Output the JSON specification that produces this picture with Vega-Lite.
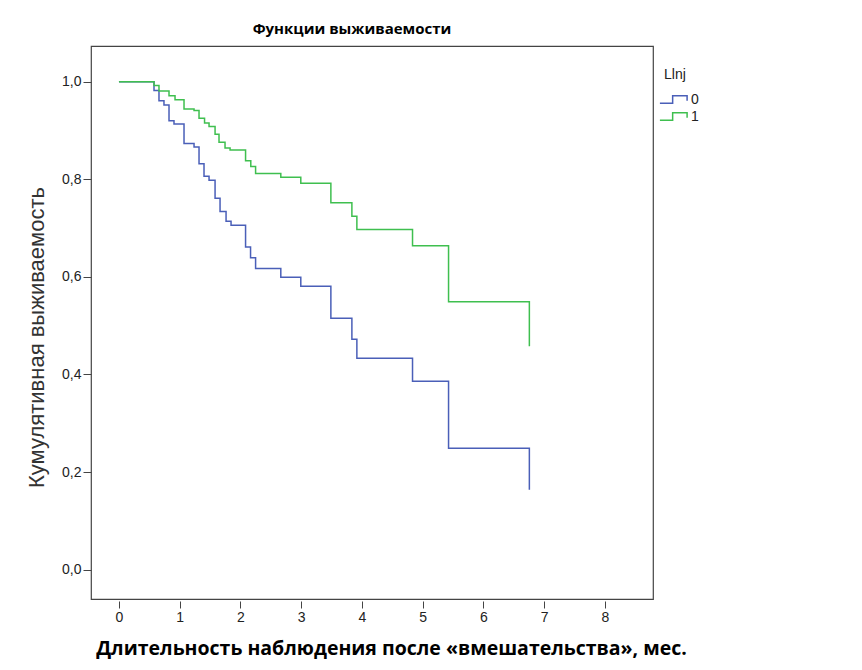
{
  "$schema": "https://vega.github.io/schema/vega-lite/v6.json",
  "width": 562,
  "height": 553,
  "autosize": "none",
  "padding": {"left": 91, "top": 46, "right": 209, "bottom": 71},
  "background": "white",
  "title": {
    "text": "Функции выживаемости",
    "font": "Open Sans",
    "fontSize": 15,
    "fontWeight": "bold",
    "color": "#000",
    "anchor": "middle",
    "dx": -20,
    "offset": 9
  },
  "data": {
    "values": [
      {"g": "0", "t": 0, "s": 1.0},
      {"g": "0", "t": 0.577, "s": 0.982},
      {"g": "0", "t": 0.659, "s": 0.961},
      {"g": "0", "t": 0.741, "s": 0.952},
      {"g": "0", "t": 0.824, "s": 0.92},
      {"g": "0", "t": 0.906, "s": 0.913},
      {"g": "0", "t": 1.071, "s": 0.873},
      {"g": "0", "t": 1.236, "s": 0.866},
      {"g": "0", "t": 1.318, "s": 0.832},
      {"g": "0", "t": 1.4, "s": 0.806},
      {"g": "0", "t": 1.483, "s": 0.798},
      {"g": "0", "t": 1.582, "s": 0.761},
      {"g": "0", "t": 1.664, "s": 0.734},
      {"g": "0", "t": 1.763, "s": 0.714},
      {"g": "0", "t": 1.845, "s": 0.706},
      {"g": "0", "t": 2.084, "s": 0.661},
      {"g": "0", "t": 2.166, "s": 0.639},
      {"g": "0", "t": 2.249, "s": 0.617},
      {"g": "0", "t": 2.664, "s": 0.599},
      {"g": "0", "t": 2.993, "s": 0.581},
      {"g": "0", "t": 3.488, "s": 0.515},
      {"g": "0", "t": 3.834, "s": 0.472},
      {"g": "0", "t": 3.916, "s": 0.433},
      {"g": "0", "t": 4.832, "s": 0.386},
      {"g": "0", "t": 5.425, "s": 0.249},
      {"g": "0", "t": 6.755, "s": 0.164},
      {"g": "1", "t": 0, "s": 1.0},
      {"g": "1", "t": 0.577, "s": 0.992},
      {"g": "1", "t": 0.659, "s": 0.981},
      {"g": "1", "t": 0.824, "s": 0.971},
      {"g": "1", "t": 0.923, "s": 0.963},
      {"g": "1", "t": 1.071, "s": 0.944},
      {"g": "1", "t": 1.236, "s": 0.941},
      {"g": "1", "t": 1.318, "s": 0.925},
      {"g": "1", "t": 1.409, "s": 0.915},
      {"g": "1", "t": 1.483, "s": 0.908},
      {"g": "1", "t": 1.582, "s": 0.892},
      {"g": "1", "t": 1.647, "s": 0.876},
      {"g": "1", "t": 1.746, "s": 0.864},
      {"g": "1", "t": 1.829, "s": 0.86},
      {"g": "1", "t": 2.084, "s": 0.838},
      {"g": "1", "t": 2.17, "s": 0.826},
      {"g": "1", "t": 2.249, "s": 0.812},
      {"g": "1", "t": 2.664, "s": 0.804},
      {"g": "1", "t": 2.993, "s": 0.792},
      {"g": "1", "t": 3.488, "s": 0.752},
      {"g": "1", "t": 3.834, "s": 0.724},
      {"g": "1", "t": 3.916, "s": 0.697},
      {"g": "1", "t": 4.832, "s": 0.664},
      {"g": "1", "t": 5.425, "s": 0.549},
      {"g": "1", "t": 6.755, "s": 0.458}
    ]
  },
  "mark": {"type": "line", "interpolate": "step-after", "strokeWidth": 1.5},
  "encoding": {
    "x": {
      "field": "t",
      "type": "quantitative",
      "scale": {"domain": [-0.46, 8.79], "nice": false, "zero": false},
      "axis": {
        "title": "Длительность наблюдения после «вмешательства», мес.",
        "values": [0, 1, 2, 3, 4, 5, 6, 7, 8],
        "format": "d",
        "grid": false,
        "domain": false,
        "offset": 2,
        "tickSize": 7,
        "tickColor": "#444",
        "labelFont": "Liberation Sans Narrow, Liberation Sans",
        "labelFontSize": 14,
        "labelColor": "#222",
        "labelPadding": 2,
        "titleFont": "Open Sans",
        "titleFontSize": 19.5,
        "titleFontWeight": "bold",
        "titleColor": "#000",
        "titleX": 300,
        "titleY": 47,
        "titleBaseline": "middle"
      }
    },
    "y": {
      "field": "s",
      "type": "quantitative",
      "scale": {"domain": [-0.06, 1.073], "nice": false, "zero": false},
      "axis": {
        "title": "Кумулятивная выживаемость",
        "values": [0, 0.2, 0.4, 0.6, 0.8, 1.0],
        "labelExpr": "replace(format(datum.value, '.1f'), '.', ',')",
        "grid": false,
        "domain": false,
        "tickSize": 8,
        "tickColor": "#444",
        "labelFont": "Liberation Sans Narrow, Liberation Sans",
        "labelFontSize": 14,
        "labelColor": "#222",
        "labelPadding": 2,
        "titleFont": "Liberation Sans Narrow, Liberation Sans",
        "titleFontSize": 22,
        "titleFontWeight": "normal",
        "titleColor": "#333",
        "titleX": -55,
        "titleY": 291,
        "titleBaseline": "middle"
      }
    },
    "color": {
      "field": "g",
      "type": "nominal",
      "scale": {"domain": ["0", "1"], "range": ["#4a5fb8", "#3fbf4f"]},
      "legend": {
        "title": "Llnj",
        "orient": "none",
        "legendX": 573,
        "legendY": 22,
        "titleFont": "Liberation Sans",
        "titleFontSize": 14,
        "titleFontWeight": "normal",
        "titleColor": "#222",
        "titlePadding": 8,
        "labelFont": "Liberation Sans",
        "labelFontSize": 14,
        "labelColor": "#222",
        "labelOffset": 8,
        "symbolType": "M -1.6 0.45 H -0.1 V -0.45 H 1.6 V 0.15",
        "symbolSize": 289,
        "symbolStrokeWidth": 1.5,
        "rowPadding": 0
      }
    }
  },
  "config": {
    "view": {"stroke": "#444", "strokeWidth": 1.2}
  }
}
